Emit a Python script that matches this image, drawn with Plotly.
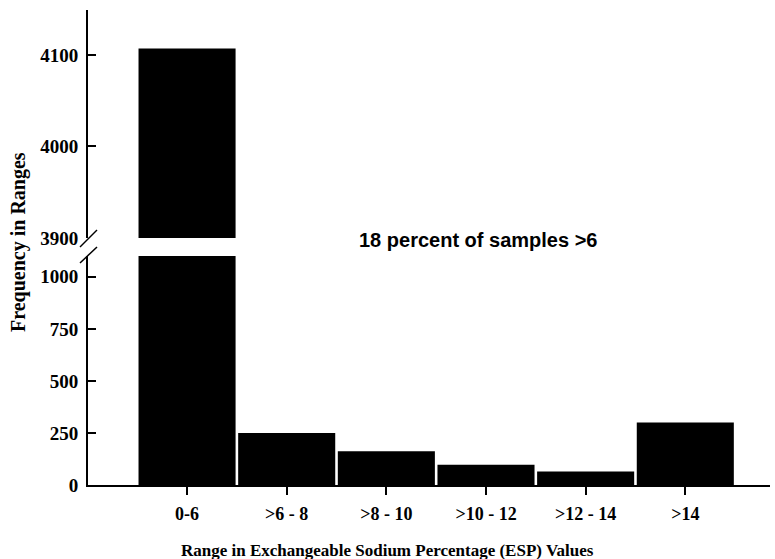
import plotly.graph_objects as go

# ESP range categories and sample counts
categories = ["0-6", ">6 - 8", ">8 - 10", ">10 - 12", ">12 - 14", ">14"]
frequency = [4107, 250, 162, 97, 65, 300]

# broken y-axis: lower and upper segments
lower_range = [0, 1100]
upper_range = [3900, 4149]
lower_ticks = [0, 250, 500, 750, 1000]
upper_ticks = [3900, 4000, 4100]

serif = "Liberation Serif"
x_tick_font = dict(family=serif, size=18, color="black", weight="bold")
y_tick_font = dict(family=serif, size=19, color="black", weight="bold")

W, H = 775, 559
ML, MR, MT, MB = 88, 5, 10, 74
plot_h = H - MT - MB
lower_top = (485 - 256) / plot_h
upper_bot = (485 - 238) / plot_h

fig = go.Figure()
fig.add_trace(go.Bar(x=categories, y=frequency, marker=dict(color="black", line=dict(width=0)),
                     xaxis="x", yaxis="y", showlegend=False))
fig.add_trace(go.Bar(x=categories, y=frequency, marker=dict(color="black", line=dict(width=0)),
                     xaxis="x2", yaxis="y2", showlegend=False))

x_range = [-0.994, 5.85]
axis_common = dict(showline=True, linecolor="black", linewidth=2, tickwidth=2, tickcolor="black",
                   ticklen=8, showgrid=False, zeroline=False, automargin=False)
y_common = dict(ticks="inside", tickfont=y_tick_font, ticklabelstandoff=4, **axis_common)
fig.update_layout(
    width=W, height=H,
    margin=dict(l=ML, r=MR, t=MT, b=MB),
    paper_bgcolor="white", plot_bgcolor="white",
    bargap=0.026,
    xaxis=dict(domain=[0, 1], range=x_range, ticks="outside", tickfont=x_tick_font,
               ticklabelstandoff=3, **axis_common),
    xaxis2=dict(domain=[0, 1], range=x_range, anchor="y2", matches="x", visible=False),
    yaxis=dict(domain=[0, lower_top], range=lower_range, tickvals=lower_ticks, **y_common),
    yaxis2=dict(domain=[upper_bot, 1], range=upper_range, tickvals=upper_ticks, anchor="x2",
                **y_common),
)

# axis-break slashes
def px_x(px):
    return (px - ML) / (W - ML - MR)

def px_y(py):
    return (485 - py) / plot_h

for y0, y1 in [(247, 230), (263, 247)]:
    fig.add_shape(type="line", xref="paper", yref="paper",
                  x0=px_x(80), y0=px_y(y0), x1=px_x(97), y1=px_y(y1),
                  line=dict(color="black", width=1.5))

fig.add_annotation(text="Range in Exchangeable Sodium Percentage (ESP) Values",
                   xref="paper", yref="paper", x=px_x(387), y=px_y(550),
                   xanchor="center", yanchor="middle", showarrow=False,
                   font=dict(family=serif, size=17, color="black", weight="bold"))
fig.add_annotation(text="Frequency in Ranges", textangle=-90, xref="paper", yref="paper",
                   x=px_x(18), y=px_y(242), xanchor="center", yanchor="middle", showarrow=False,
                   font=dict(family=serif, size=20, color="black", weight="bold"))
fig.add_annotation(text="18 percent of samples >6", xref="paper", yref="paper",
                   x=px_x(478), y=px_y(240), xanchor="center", yanchor="middle", showarrow=False,
                   font=dict(family="Liberation Sans", size=20, color="black", weight="bold"))

fig.write_html("out.html")
